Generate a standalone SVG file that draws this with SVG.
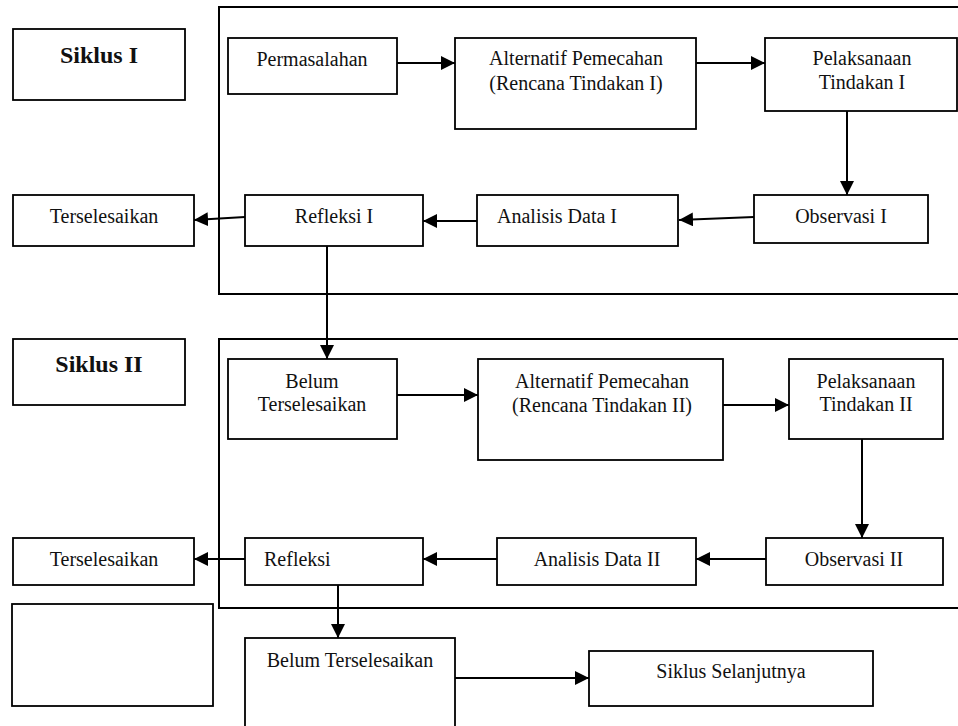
<svg xmlns="http://www.w3.org/2000/svg" width="958" height="726" viewBox="0 0 958 726">
<style>
.box{fill:#fff;stroke:#000;stroke-width:1.8}
.frame{fill:none;stroke:#000;stroke-width:2}
.t{font-family:"Liberation Serif","Times New Roman",serif;font-size:20px;fill:#111;text-anchor:middle}
.ts{font-family:"Liberation Serif","Times New Roman",serif;font-size:20px;fill:#111}
.b{font-family:"Liberation Serif","Times New Roman",serif;font-size:24px;font-weight:bold;fill:#111;text-anchor:middle}
.c{fill:none;stroke:#000;stroke-width:2;marker-end:url(#ah)}
</style>
<defs>
<marker id="ah" markerUnits="userSpaceOnUse" markerWidth="14" markerHeight="14" refX="14" refY="7" orient="auto">
<path d="M0,0 L14,7 L0,14 Z" fill="#000"/>
</marker>
</defs>
<rect width="958" height="726" fill="#fff"/>
<g id="frame1"><path class="frame" d="M962,7 H219 V294 H962"/></g>
<g id="frame2"><path class="frame" d="M962,339 H219 V608 H962"/></g>

<g id="siklus1"><rect class="box" x="13" y="29" width="172" height="71"/><text class="b" x="99" y="63">Siklus I</text></g>
<g id="permasalahan"><rect class="box" x="228" y="38" width="169" height="56"/><text class="t" x="312" y="66">Permasalahan</text></g>
<g id="alternatif1"><rect class="box" x="455" y="38" width="241" height="91"/><text class="t" x="576" y="65">Alternatif Pemecahan</text><text class="t" x="576" y="90">(Rencana Tindakan I)</text></g>
<g id="pelaksanaan1"><rect class="box" x="765" y="38" width="192" height="73"/><text class="t" x="862" y="65">Pelaksanaan</text><text class="t" x="862" y="89">Tindakan I</text></g>
<g id="terselesaikan1"><rect class="box" x="13" y="195" width="181" height="51"/><text class="t" x="104" y="223">Terselesaikan</text></g>
<g id="refleksi1"><rect class="box" x="245" y="195" width="178" height="51"/><text class="t" x="334" y="223">Refleksi I</text></g>
<g id="analisis1"><rect class="box" x="477" y="195" width="201" height="51"/><text class="ts" x="497" y="223">Analisis Data I</text></g>
<g id="observasi1"><rect class="box" x="754" y="195" width="174" height="48"/><text class="t" x="841" y="223">Observasi I</text></g>

<g id="siklus2"><rect class="box" x="13" y="339" width="172" height="66"/><text class="b" x="99" y="372">Siklus II</text></g>
<g id="belum1"><rect class="box" x="228" y="359" width="169" height="80"/><text class="t" x="312" y="388">Belum</text><text class="t" x="312" y="411">Terselesaikan</text></g>
<g id="alternatif2"><rect class="box" x="478" y="359" width="245" height="101"/><text class="t" x="602" y="388">Alternatif Pemecahan</text><text class="t" x="602" y="412">(Rencana Tindakan II)</text></g>
<g id="pelaksanaan2"><rect class="box" x="789" y="359" width="154" height="80"/><text class="t" x="866" y="388">Pelaksanaan</text><text class="t" x="866" y="411">Tindakan II</text></g>
<g id="terselesaikan2"><rect class="box" x="13" y="538" width="181" height="47"/><text class="t" x="104" y="566">Terselesaikan</text></g>
<g id="refleksi2"><rect class="box" x="245" y="538" width="178" height="47"/><text class="ts" x="264" y="566">Refleksi</text></g>
<g id="analisis2"><rect class="box" x="497" y="538" width="199" height="47"/><text class="t" x="597" y="566">Analisis Data II</text></g>
<g id="observasi2"><rect class="box" x="766" y="538" width="177" height="47"/><text class="t" x="854" y="566">Observasi II</text></g>

<g id="empty"><rect class="box" x="12" y="604" width="201" height="102"/></g>
<g id="belum2"><rect class="box" x="245" y="638" width="210" height="100"/><text class="t" x="350" y="667">Belum Terselesaikan</text></g>
<g id="selanjutnya"><rect class="box" x="589" y="651" width="284" height="55"/><text class="t" x="731" y="678">Siklus Selanjutnya</text></g>

<g id="connectors">
<path class="c" d="M397,63 H455"/>
<path class="c" d="M696,63 H765"/>
<path class="c" d="M847,111 V195"/>
<path class="c" d="M754,217 L679,220"/>
<path class="c" d="M477,221 H423"/>
<path class="c" d="M245,217 L194,220"/>
<path class="c" d="M327,246 V359"/>
<path class="c" d="M397,395 H478"/>
<path class="c" d="M723,405 H789"/>
<path class="c" d="M862,439 V538"/>
<path class="c" d="M766,559 H696"/>
<path class="c" d="M497,559 H423"/>
<path class="c" d="M245,559 H194"/>
<path class="c" d="M338,585 V638"/>
<path class="c" d="M455,678 H589"/>
</g>
</svg>
